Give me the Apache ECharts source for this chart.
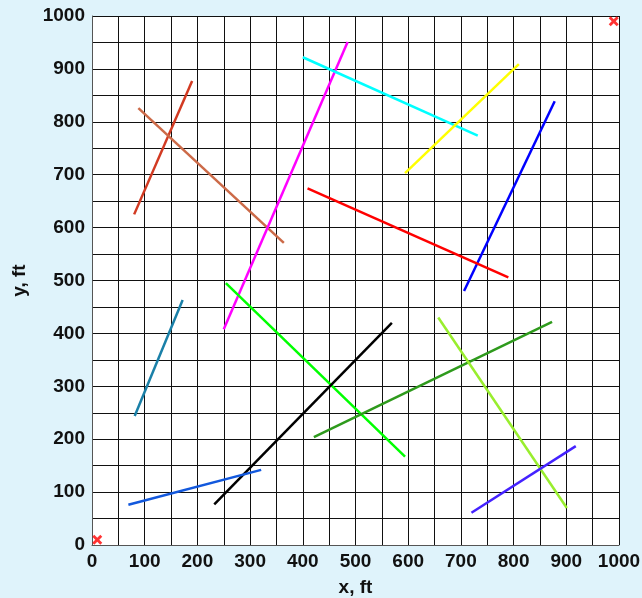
<!DOCTYPE html>
<html>
<head>
<meta charset="utf-8">
<script src="https://cdn.jsdelivr.net/npm/echarts@6/dist/echarts.min.js"></script>
<style>
html,body{margin:0;padding:0;background:#dff3fb;}
#chart{width:642px;height:598px;}
</style>
</head>
<body>
<div id="chart"></div>
<script>
// Segment endpoints (ft)
const startX = [80, 88, 250, 400, 594, 706, 409, 81, 254, 232, 421, 657, 720, 69];
const startY = [625, 826, 408, 922, 703, 480, 674, 244, 495, 77, 204, 430, 61, 76];
const endX   = [190, 364, 485, 732, 810, 878, 790, 172, 594, 569, 873, 901, 918, 321];
const endY   = [877, 571, 951, 774, 909, 839, 506, 463, 167, 420, 422, 70, 187, 142];
const segColors = ['#d23a22', '#cc6a48', '#ff00ff', '#00ffff', '#ffff00', '#0000ff', '#ff0000',
                   '#1a80a8', '#00ff00', '#000000', '#2e9a1c', '#99ee2e', '#4422ff', '#1258dd'];
// Corner markers
const markX = [10, 990];
const markY = [10, 990];
// Axis
const axisMin = 0, axisMax = 1000, gridStep = 50, labelStep = 100;

const font = '"Liberation Sans", Arial, sans-serif';
const series = startX.map((x, i) => ({
  type: 'line',
  data: [[x, startY[i]], [endX[i], endY[i]]],
  symbol: 'none',
  lineStyle: { color: segColors[i], width: 2.5 },
  silent: true,
  z: 3
}));
series.push({
  type: 'scatter',
  data: markX.map((x, i) => [x, markY[i]]),
  symbol: 'path://M0,2L2,0L5,3L8,0L10,2L7,5L10,8L8,10L5,7L2,10L0,8L3,5Z',
  symbolSize: 10,
  itemStyle: { color: '#ff0000' },
  z: 4
});

function axis(name, gap, margin) {
  return {
    type: 'value', min: axisMin, max: axisMax, interval: gridStep,
    name: name, nameLocation: 'middle', nameGap: gap,
    nameTextStyle: { fontFamily: font, fontWeight: 'bold', fontSize: 19, color: '#111' },
    axisLine: { show: true, lineStyle: { color: '#555', width: 1 } },
    axisTick: { show: false },
    axisLabel: {
      margin: margin,
      fontFamily: font, fontWeight: 'bold', fontSize: 19, color: '#111',
      formatter: v => (v % labelStep === 0 ? String(v) : '')
    },
    splitLine: { show: true, lineStyle: { color: '#111', width: 1 } }
  };
}

const chart = echarts.init(document.getElementById('chart'));
chart.setOption({
  backgroundColor: '#dff3fb',
  animation: false,
  grid: { left: 92, top: 16, right: 23, bottom: 53, backgroundColor: '#ffffff', show: true, borderWidth: 0,
          containLabel: false, outerBoundsMode: 'none' },
  xAxis: axis('x, ft', 33, 7),
  yAxis: axis('y, ft', 63, 7),
  series: series
});
</script>
</body>
</html>
